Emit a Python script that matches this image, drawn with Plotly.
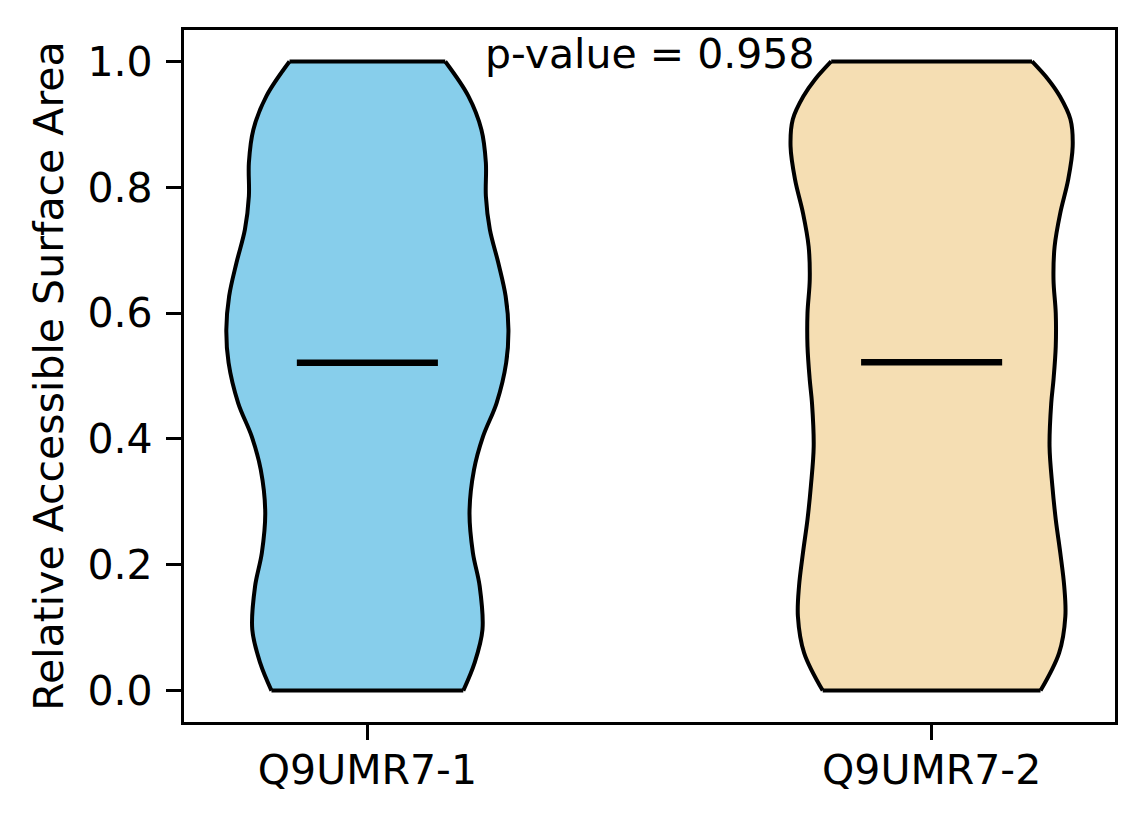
import plotly.graph_objects as go

# violin outlines: half-width (in x units) at each y level
groups = ["Q9UMR7-1", "Q9UMR7-2"]
positions = [1, 2]
colors = ["#87CEEB", "#F5DEB3"]
medians = [0.521, 0.522]
p_value = 0.958

y_levels_1 = [0.0, 0.044, 0.097, 0.166, 0.219, 0.283, 0.351, 0.404, 0.457,
              0.521, 0.574, 0.627, 0.680, 0.733, 0.786, 0.839, 0.892,
              0.945, 1.0]
half_width_1 = [0.170, 0.190, 0.204, 0.199, 0.187, 0.181, 0.189, 0.205, 0.229,
                0.246, 0.250, 0.245, 0.232, 0.217, 0.210, 0.210, 0.202,
                0.179, 0.138]

y_levels_2 = [0.0, 0.060, 0.118, 0.166, 0.219, 0.272, 0.325, 0.388, 0.457,
              0.494, 0.547, 0.600, 0.653, 0.706, 0.759, 0.812, 0.865, 0.908,
              0.945, 0.971, 1.0]
half_width_2 = [0.193, 0.226, 0.237, 0.235, 0.228, 0.220, 0.214, 0.209, 0.212,
                0.216, 0.220, 0.220, 0.216, 0.218, 0.228, 0.242, 0.250, 0.246,
                0.227, 0.207, 0.178]

profiles = [(y_levels_1, half_width_1), (y_levels_2, half_width_2)]

fig = go.Figure()
spline = dict(shape="spline", smoothing=1.0)

# fills first
for pos, col, (ys, ws) in zip(positions, colors, profiles):
    left = [pos - w for w in ws]
    right = [pos + w for w in ws]
    fig.add_trace(go.Scatter(x=left, y=ys, mode="lines",
                             line=dict(width=0, color=col, **spline)))
    fig.add_trace(go.Scatter(x=right, y=ys, mode="lines", fill="tonextx",
                             fillcolor=col, line=dict(width=0, color=col, **spline)))

# outlines
for pos, (ys, ws) in zip(positions, profiles):
    left = [pos - w for w in ws]
    right = [pos + w for w in ws]
    for xs in (left, right):
        fig.add_trace(go.Scatter(x=xs, y=ys, mode="lines",
                                 line=dict(width=4, color="black", **spline)))
    fig.add_trace(go.Scatter(
        x=[left[0], right[0], None, left[-1], right[-1]],
        y=[ys[0], ys[0], None, ys[-1], ys[-1]],
        mode="lines", line=dict(width=4, color="black")))

# medians
for pos, med in zip(positions, medians):
    fig.add_trace(go.Scatter(x=[pos - 0.125, pos + 0.125], y=[med, med],
                             mode="lines", line=dict(width=6.5, color="black")))

fig.add_annotation(x=1.5, y=1.012, text=f"p-value = {p_value}", showarrow=False,
                   xanchor="center", yanchor="middle",
                   font=dict(size=41, color="black"))

axis_style = dict(showline=True, linecolor="black", linewidth=3.3, mirror=True,
                  ticks="outside", ticklen=15, tickwidth=3.3, tickcolor="black",
                  showgrid=False, zeroline=False)

fig.update_xaxes(range=[0.675, 2.325], tickvals=positions, ticktext=groups,
                 ticklabelstandoff=-5, **axis_style)
fig.update_yaxes(range=[-0.05, 1.05], tickvals=[0, 0.2, 0.4, 0.6, 0.8, 1.0],
                 tickformat=".1f", ticklabelstandoff=5,
                 title=dict(text="Relative Accessible Surface Area", standoff=12,
                            font=dict(size=41, color="black")),
                 **axis_style)

# page has an 8px body margin, so the figure is 16px smaller than the window
fig.update_layout(
    width=1136, height=816,
    margin=dict(l=176, r=29, t=22, b=102),
    plot_bgcolor="white", paper_bgcolor="white",
    showlegend=False,
    font=dict(family="DejaVu Sans", size=41, color="black"),
)
fig.write_html("out.html")
